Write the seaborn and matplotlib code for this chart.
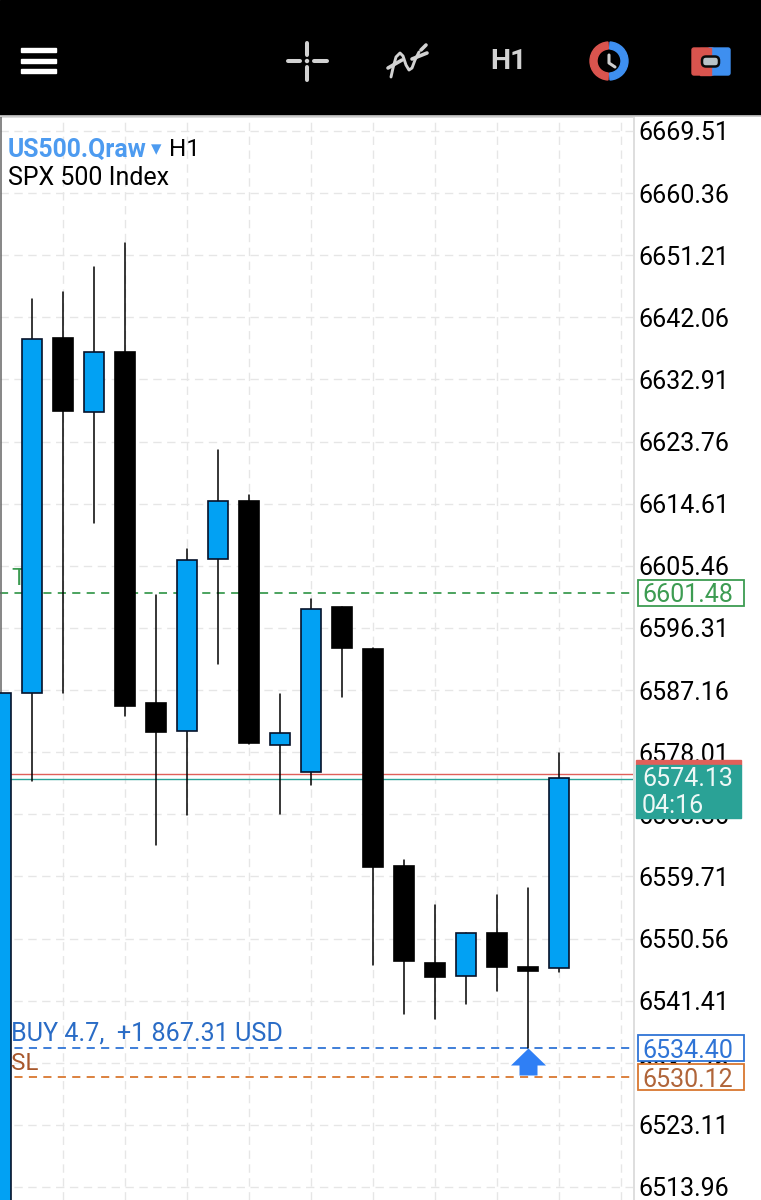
import seaborn as sns
import pandas as pd
import matplotlib.pyplot as plt
from matplotlib.path import Path
from matplotlib.patches import Rectangle, Wedge, FancyBboxPatch, Circle

# candles, one hour each, oldest first (first body runs off the chart)
candle_idx = list(range(19))
opens = [6500.00, 6586.73, 6639.02, 6628.12, 6636.96, 6585.25, 6581.13, 6606.47, 6615.01, 6579.07,
         6575.09, 6599.40, 6593.21, 6561.24, 6546.96, 6545.04, 6551.38, 6546.37, 6546.22]
closes = [6586.73, 6638.87, 6628.27, 6636.96, 6584.81, 6580.98, 6606.32, 6615.01, 6579.36, 6580.84,
          6599.10, 6593.36, 6561.10, 6547.25, 6544.89, 6551.38, 6546.37, 6545.78, 6574.21]
highs = [6680.00, 6644.76, 6645.79, 6649.48, 6653.01, 6601.16, 6607.94, 6622.52, 6615.89, 6586.58,
         6600.57, 6599.40, 6593.36, 6562.13, 6555.50, 6551.38, 6556.97, 6558.00, 6577.89]
lows = [6495.00, 6573.76, 6586.73, 6611.77, 6583.34, 6564.34, 6568.76, 6591.00, 6579.21, 6568.90,
        6573.18, 6586.14, 6546.66, 6539.44, 6538.71, 6540.92, 6542.83, 6534.44, 6545.63]

price_ticks = [6669.51, 6660.36, 6651.21, 6642.06, 6632.91, 6623.76, 6614.61, 6605.46, 6596.31,
               6587.16, 6578.01, 6568.86, 6559.71, 6550.56, 6541.41, 6532.26, 6523.11, 6513.96]
grid_candles = [2, 4, 6, 8, 10, 12, 14, 16, 18, 20]

tp_price = 6601.48
entry_price = 6534.40
sl_price = 6530.12
bid_price = 6574.13
ask_price = 6574.82
entry_candle = 17
countdown = '04:16'

BLUE = '#02a1f3'
GRID = '#e6e6e6'
GREEN = '#3d9c52'
ENTRY = '#2f74d6'
STOP = '#d9772f'
TEAL = '#2aa296'
RED = '#e0605a'

W, H = 761, 1200
TOP = 117
RIGHT = 634

sns.set_theme(style='white')
plt.rcParams['font.family'] = ['Roboto', 'DejaVu Sans']

df = pd.DataFrame({'i': candle_idx, 'open': opens, 'close': closes, 'high': highs, 'low': lows})
df['bottom'] = df[['open', 'close']].min(axis=1)
df['size'] = (df['close'] - df['open']).abs()
up = df[df['close'] >= df['open']]
down = df[df['close'] < df['open']]

wicks = pd.concat([df[['i', 'high']].rename(columns={'high': 'price'}),
                   df[['i', 'low']].rename(columns={'low': 'price'})])

fig = plt.figure(figsize=(W / 100, H / 100), dpi=100, facecolor='white')
ax = fig.add_axes([0, 0, RIGHT / W, (H - TOP) / H])

ax.set_axisbelow(True)
sns.lineplot(data=wicks[wicks['i'] > 0], x='i', y='price', units='i', estimator=None, color='black',
             linewidth=1.1, legend=False, ax=ax, zorder=3)
sns.lineplot(data=wicks[wicks['i'] == 0], x='i', y='price', units='i', estimator=None, color='#666666',
             linewidth=1.1, legend=False, ax=ax, zorder=3)
for part, col, edge in ((up, BLUE, '#06122a'), (down, 'black', 'black')):
    sns.barplot(data=part, x='i', y='size', bottom=part['bottom'], native_scale=True, orient='x',
                errorbar=None, color=col, saturation=1, width=0.64, edgecolor=edge,
                linewidth=1.2, ax=ax, zorder=4)

ax.set_xlim(-1 / 31, (RIGHT - 1) / 31)
per_px = (price_ticks[0] - price_ticks[-1]) / 1056
ax.set_ylim(price_ticks[-1] - 13 * per_px, price_ticks[0] + 14 * per_px)
ax.set_xticks(grid_candles)
ax.set_xticklabels([])
ax.set_xlabel('')
ax.set_ylabel('')
ax.yaxis.tick_right()
ax.set_yticks(price_ticks)
ax.set_yticklabels(['%.2f' % p for p in price_ticks], fontsize=18, color='black')
ax.tick_params(length=0, pad=3.5)
ax.grid(True, color=GRID, linewidth=1.0, linestyle=(0, (6, 4)))
for side in ('left', 'bottom'):
    ax.spines[side].set_visible(False)
for side in ('top', 'right'):
    ax.spines[side].set_color('#dedede')
    ax.spines[side].set_linewidth(1.4)

# trade levels
ax.axhline(tp_price, color=GREEN, linewidth=1.3, linestyle=(0, (4.5, 3.5)), zorder=2)
ax.axhline(entry_price, color=ENTRY, linewidth=1.3, linestyle=(0, (4.5, 3.5)), zorder=2)
ax.axhline(sl_price, color=STOP, linewidth=1.3, linestyle=(0, (4.5, 3.5)), zorder=2)
ax.axhline(ask_price, color=RED, linewidth=1.0, zorder=2)
ax.axhline(bid_price, color=TEAL, linewidth=1.0, zorder=2)

lbl = ax.get_yaxis_transform()
ax.text(11 / RIGHT, tp_price + 2.1, 'TP', transform=lbl, color=GREEN, fontsize=17.5, va='center', zorder=1)
ax.text(11 / RIGHT, entry_price + 2.2, 'BUY 4.7,  +1 867.31 USD', transform=lbl, color='#2a6cc6',
        fontsize=18.1, va='center', zorder=5)
ax.text(11 / RIGHT, sl_price + 2.0, 'SL', transform=lbl, color='#a8572c', fontsize=17.5, va='center', zorder=5)

# entry arrow sits on the entry price, tip up
arrow = Path([(0, 0), (17.5, -17), (9, -17), (9, -27), (-9, -27), (-9, -17), (-17.5, -17), (0, 0)], closed=True)
sns.scatterplot(x=[entry_candle], y=[entry_price], marker=arrow, s=1512, color='#2f7ff5',
                linewidth=0, legend=False, ax=ax, zorder=6, clip_on=False)

# price tags
for price, col, txt_col in ((tp_price, GREEN, '#3d9c52'), (entry_price, ENTRY, ENTRY), (sl_price, STOP, '#b0653a')):
    ax.add_patch(Rectangle((637.5 / RIGHT, price - 12.8 * per_px), 106 / RIGHT, 26 * per_px, transform=lbl,
                           facecolor='white', edgecolor=col, linewidth=1.3, clip_on=False, zorder=7))
    ax.text(642 / RIGHT, price, '%.2f' % price, transform=lbl, color=txt_col, fontsize=18,
            va='center_baseline', zorder=8)

# screen-space layer: toolbar, symbol heading and the live price box
ov = fig.add_axes([0, 0, 1, 1])
ov.set_xlim(0, W)
ov.set_ylim(H, 0)
ov.axis('off')
ov.patch.set_alpha(0)

ov.text(8, 149.5, 'US500.Qraw', color='#4d9bf0', fontsize=17.8, fontweight='bold', va='center', zorder=4)
ov.text(151, 149.5, '▾', color='#4d9bf0', fontsize=15, va='center', family=['DejaVu Sans'], zorder=4)
ov.text(169, 149.5, 'H1', color='black', fontsize=17.5, va='center', zorder=4)
ov.text(8, 178, 'SPX 500 Index', color='black', fontsize=18, va='center', zorder=4)

ov.add_patch(Rectangle((636, 760), 105, 5, color=RED, zorder=3))
ov.add_patch(Rectangle((636, 765), 105, 53, color=TEAL, zorder=3))
ov.text(642, 779, '%.2f' % bid_price, color='#eef8f6', fontsize=18, va='center', zorder=4)
ov.text(642, 806, countdown, color='#eef8f6', fontsize=18, va='center', zorder=4)

ov.add_patch(Rectangle((0, 0), W, 115, color='black', zorder=1))
ov.plot([0, W], [116, 116], color='#cfcfcf', linewidth=1.2, zorder=1)

# hamburger
for y in (50, 60.5, 71):
    ov.add_patch(Rectangle((21, y - 2), 35, 4, color='white', zorder=2))

# crosshair
ICON = '#d2d2d2'
for xs, ys in (([288, 300], [61, 61]), ([314, 327], [61, 61]), ([307, 307], [43, 55]), ([307, 307], [67, 80])):
    ov.plot(xs, ys, color=ICON, linewidth=2.9, solid_capstyle='round', zorder=2)
ov.add_patch(Circle((307, 61), 1.5, color=ICON, zorder=2))

# indicator squiggle
ov.plot([391, 393, 396, 400, 403, 406, 409, 412, 415, 419],
        [77, 68, 57, 53, 56, 65, 70, 68, 60, 52], color=ICON, linewidth=2.1, zorder=2)
ov.plot([388, 402], [68, 60], color=ICON, linewidth=2.6, solid_capstyle='round', zorder=2)
ov.plot([412, 427], [59, 53], color=ICON, linewidth=2.6, solid_capstyle='round', zorder=2)
ov.plot([421, 426], [50, 45], color=ICON, linewidth=2.6, solid_capstyle='round', zorder=2)

ov.text(508, 61.5, 'H1', color=ICON, fontsize=20.5, fontweight='bold', ha='center', va='center',
        family=['Liberation Sans Narrow', 'Roboto'], zorder=2)

# clock
ov.add_patch(Wedge((609, 61), 19, 93, 267, width=7, color='#d9544e', zorder=2))
ov.add_patch(Wedge((609, 61), 19, -87, 87, width=7, color='#3e8ff0', zorder=2))
ov.plot([609, 609, 615], [55, 63, 67], color='#cfcfcf', linewidth=2.2, zorder=2)

# account switch
ov.add_patch(FancyBboxPatch((692, 48), 22, 27, boxstyle='round,pad=0,rounding_size=2', color='#d9544e', zorder=2))
ov.add_patch(FancyBboxPatch((708, 48), 22, 27, boxstyle='round,pad=0,rounding_size=2', color='#3e8ff0', zorder=2))
ov.add_patch(Rectangle((700, 48), 11, 27, color='#d9544e', zorder=2))
ov.add_patch(FancyBboxPatch((702, 56.5), 17, 10, boxstyle='round,pad=0,rounding_size=4', facecolor='#b9c3c8',
                            edgecolor='#0a0a0a', linewidth=1.8, zorder=3))

fig.savefig('out.png', dpi=100)
